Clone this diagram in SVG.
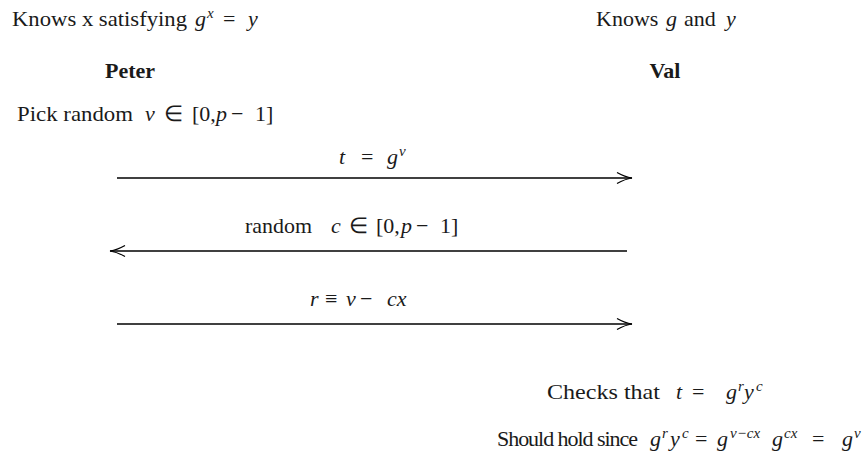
<svg xmlns="http://www.w3.org/2000/svg" width="868" height="468" viewBox="0 0 868 468">
<style>
text{font-family:"Liberation Serif","Times New Roman",serif;font-size:22px;fill:#1a1a1a}
.b{font-weight:bold}
.i{font-style:italic}
.s{font-size:15px;font-style:italic}
.c{stroke:#000;stroke-width:1.3;fill:none}
</style>
<defs>
<marker id="ah" markerWidth="18" markerHeight="12" refX="16" refY="6" orient="auto" markerUnits="userSpaceOnUse">
<path d="M1,0.5 Q9,5 16,6 Q9,7 1,11.5" fill="none" stroke="#000" stroke-width="1.2"/>
</marker>
</defs>
<rect width="868" height="468" fill="#fff"/>
<g id="peter">
<text x="12" y="26" textLength="175" lengthAdjust="spacingAndGlyphs">Knows x satisfying</text>
<text y="26"><tspan class="i" x="195">g</tspan><tspan class="s" x="207" y="18">x</tspan><tspan x="223" y="26">=</tspan><tspan class="i" x="248">y</tspan></text>
<text class="b" x="130" y="78" text-anchor="middle">Peter</text>
<text x="17" y="121" textLength="116" lengthAdjust="spacingAndGlyphs">Pick random</text>
<text y="121"><tspan class="i" x="145">v</tspan><tspan x="164">∈</tspan><tspan x="192">[0,</tspan><tspan class="i" x="216">p</tspan><tspan x="231">−</tspan><tspan x="255">1]</tspan></text>
</g>
<g id="val">
<text y="26"><tspan x="596">Knows</tspan><tspan class="i" x="666">g</tspan><tspan x="684">and</tspan><tspan class="i" x="726">y</tspan></text>
<text class="b" x="665" y="78" text-anchor="middle">Val</text>
</g>
<g id="connectors">
<line class="c" x1="117" y1="178" x2="632" y2="178" marker-end="url(#ah)"/>
<line class="c" x1="627" y1="251" x2="110" y2="251" marker-end="url(#ah)"/>
<line class="c" x1="117" y1="324" x2="632" y2="324" marker-end="url(#ah)"/>
<text y="164"><tspan class="i" x="339">t</tspan><tspan x="361">=</tspan><tspan class="i" x="387">g</tspan><tspan class="s" x="399" y="156">v</tspan></text>
<text x="245" y="233" textLength="67" lengthAdjust="spacingAndGlyphs">random</text>
<text y="233"><tspan class="i" x="331">c</tspan><tspan x="349">∈</tspan><tspan x="376">[0,</tspan><tspan class="i" x="401">p</tspan><tspan x="416">−</tspan><tspan x="440">1]</tspan></text>
<text y="306"><tspan class="i" x="310">r</tspan><tspan x="325">≡</tspan><tspan class="i" x="346">v</tspan><tspan x="360">−</tspan><tspan class="i" x="387">cx</tspan></text>
</g>
<g id="checks">
<text x="547" y="399" textLength="113" lengthAdjust="spacingAndGlyphs">Checks that</text>
<text y="399"><tspan class="i" x="676">t</tspan><tspan x="692">=</tspan><tspan class="i" x="726">g</tspan><tspan class="s" x="738" y="391">r</tspan><tspan class="i" x="744" y="399">y</tspan><tspan class="s" x="756" y="391">c</tspan></text>
<text x="497" y="446" font-size="21" textLength="141" lengthAdjust="spacing">Should hold since</text>
<text y="446"><tspan class="i" x="650">g</tspan><tspan class="s" x="662" y="438">r</tspan><tspan class="i" x="670" y="446">y</tspan><tspan class="s" x="682" y="438">c</tspan><tspan x="695" y="446">=</tspan><tspan class="i" x="717">g</tspan><tspan class="s" x="730" y="438">v−cx</tspan><tspan class="i" x="772" y="446">g</tspan><tspan class="s" x="784" y="438">cx</tspan><tspan x="812" y="446">=</tspan><tspan class="i" x="842">g</tspan><tspan class="s" x="854" y="438">v</tspan></text>
</g>
</svg>
